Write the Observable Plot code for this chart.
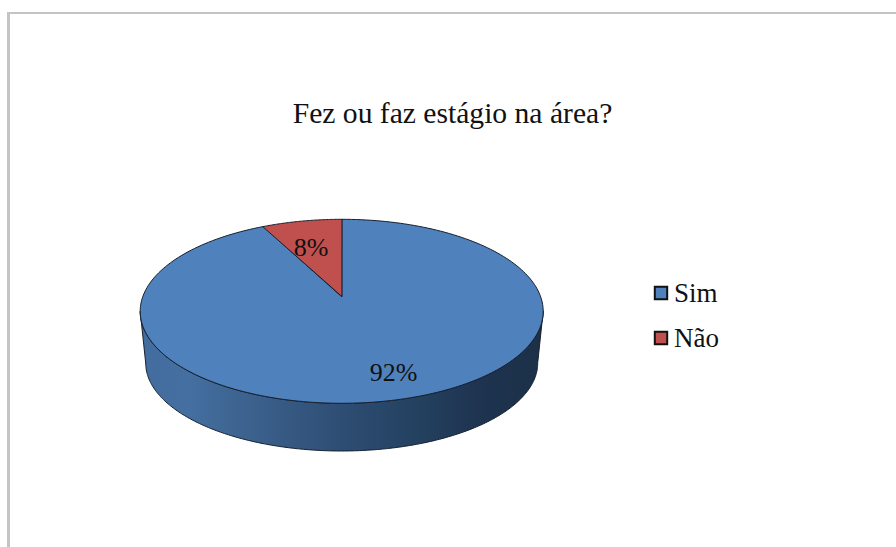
<!DOCTYPE html>
<html lang="pt">
<head>
<meta charset="utf-8">
<script src="https://cdn.jsdelivr.net/npm/d3@7"></script>
<script src="https://cdn.jsdelivr.net/npm/@observablehq/plot@0.6"></script>
<style>
html,body{margin:0;padding:0;background:#fff;overflow:hidden}
svg{display:block}
</style>
</head>
<body>
<div id="chart"></div>
<script>
const categories = ["Não", "Sim"];
const shares = [7.6, 92.4];
const sliceColors = ["#c0504d", "#4f81bd"];
const legendOrder = ["Sim", "Não"];
const titleText = "Fez ou faz estágio na área?";

const W = 896, H = 547;
const top3d = {cx: 341.2, cy: 310.8, rx: 201.5, ry: 92};
const base3d = {cx: 341.2, cy: 362.5, rx: 196, ry: 88};
const apexV = -0.163;
const serif = "'Liberation Serif','Times New Roman',serif";
const outline = "#16202e";

const rimPoint = (e, t) => ({x: e.cx + e.rx * Math.cos(t), y: e.cy + e.ry * Math.sin(t)});

// ray from the raised apex, in unit-circle space, to the rim: gives the rim parameter of a clockwise angle
function rimParam(theta) {
  const du = Math.sin(theta), dv = -Math.cos(theta);
  const b = apexV * dv;
  const s = -b + Math.sqrt(b * b - (apexV * apexV - 1));
  return Math.atan2(apexV + s * dv, s * du);
}
const apex = {x: top3d.cx, y: top3d.cy + apexV * top3d.ry};

const arcPts = (e, t0, t1, n = 240) =>
  d3.range(n + 1).map(i => rimPoint(e, t0 + (t1 - t0) * i / n));

// slices, clockwise from 12 o'clock; Não sits just left of the top
const total = d3.sum(shares);
const naoAngle = 2 * Math.PI * shares[0] / total;
const tTop = -Math.PI / 2;
const tNao = rimParam(-naoAngle);
const naoSlice = [apex, ...arcPts(top3d, tNao, tTop, 60)];
const simSlice = [apex, ...arcPts(top3d, tTop, tNao + 2 * Math.PI)];
const sidePts = [...arcPts(top3d, 0, Math.PI), ...arcPts(base3d, Math.PI, 0)];

const labels = [
  {text: `${Math.round(shares[1])}%`, x: 393, y: 372.5},
  {text: `${Math.round(shares[0])}%`, x: 310.5, y: 247.5}
];
const legend = legendOrder.map((name, i) => ({
  name,
  x: 660.5,
  y: 292.5 + i * 45,
  color: sliceColors[categories.indexOf(name)]
}));

const gradientDefs = () => {
  const svg = d3.create("svg:g");
  const g = svg.append("defs").append("linearGradient")
    .attr("id", "sideGrad").attr("x1", "0").attr("x2", "1").attr("y1", "0").attr("y2", "0");
  [[0, "#436d9e"], [0.12, "#446fa0"], [0.3, "#3a5f8a"], [0.5, "#2e4d73"], [0.7, "#23405f"], [0.85, "#1e334f"], [1, "#1c3048"]]
    .forEach(([o, c]) => g.append("stop").attr("offset", o).attr("stop-color", c));
  return svg.node();
};

const plot = Plot.plot({
  width: W, height: H,
  margin: 0,
  x: {domain: [0, W], range: [0, W], axis: null},
  y: {domain: [0, H], range: [0, H], axis: null},
  style: {background: "#fff", fontFamily: serif},
  marks: [
    gradientDefs,
    Plot.ruleY([12.5], {x1: 7, x2: W, stroke: "#c4c4c4", strokeWidth: 2}),
    Plot.ruleX([8], {y1: 12, y2: H, stroke: "#c4c4c4", strokeWidth: 3}),
    Plot.line(sidePts, {x: "x", y: "y", curve: "linear-closed", fill: "url(#sideGrad)", stroke: outline, strokeWidth: 1}),
    Plot.line(simSlice, {x: "x", y: "y", curve: "linear-closed", fill: sliceColors[1], stroke: outline, strokeWidth: 1}),
    Plot.line(naoSlice, {x: "x", y: "y", curve: "linear-closed", fill: sliceColors[0], stroke: outline, strokeWidth: 1}),
    Plot.text(labels, {x: "x", y: "y", text: "text", fontSize: 26, fill: "#111", textAnchor: "middle", lineAnchor: "middle"}),
    Plot.text([titleText], {x: 452, y: 113, text: d => d, fontSize: 29.6, fill: "#111", textAnchor: "middle", lineAnchor: "middle"}),
    Plot.dot(legend, {x: "x", y: "y", symbol: "square", r: 7, fill: "color", stroke: "#111", strokeWidth: 2}),
    Plot.text(legend, {x: d => d.x + 13, y: "y", text: "name", fontSize: 27, fill: "#111", textAnchor: "start", lineAnchor: "middle"})
  ]
});
document.getElementById("chart").append(plot);
</script>
</body>
</html>
